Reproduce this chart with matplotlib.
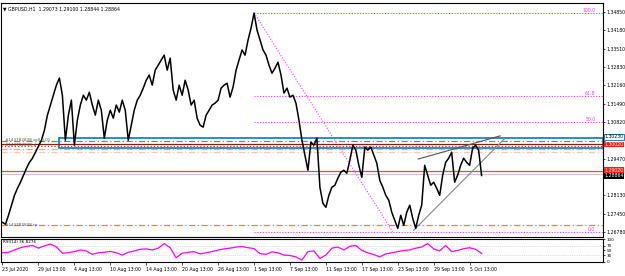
"""GBPUSD H1 chart with fib levels, trendlines and RSI panel."""

import numpy as np
import matplotlib
matplotlib.use('Agg')
import matplotlib.pyplot as plt
import matplotlib.patches as mpatches

prices = [
    1.2714, 1.2707, 1.2740, 1.2777, 1.2813, 1.2839, 1.2861, 1.2887, 1.2912, 1.2934,
    1.2949, 1.2971, 1.2993, 1.3015, 1.3052, 1.3107, 1.3144, 1.3180, 1.3217, 1.3243,
    1.3180, 1.3015, 1.3107, 1.3162, 1.2997, 1.3089, 1.3144, 1.3180, 1.3162, 1.3191,
    1.3144, 1.3107, 1.3162, 1.3125, 1.3023, 1.3089, 1.3125, 1.3096, 1.3144, 1.3118,
    1.3162, 1.3125, 1.3015, 1.3070, 1.3125, 1.3162, 1.3180, 1.3206, 1.3235, 1.3254,
    1.3217, 1.3272, 1.3290, 1.3309, 1.3327, 1.3272, 1.3316, 1.3199, 1.3162, 1.3217,
    1.3180, 1.3235, 1.3199, 1.3144, 1.3162, 1.3096, 1.3070, 1.3063, 1.3107, 1.3125,
    1.3144, 1.3151, 1.3162, 1.3206, 1.3217, 1.3224, 1.3173, 1.3210, 1.3272, 1.3309,
    1.3346, 1.3327, 1.3382, 1.3426, 1.3481, 1.3419, 1.3382, 1.3346, 1.3327, 1.3290,
    1.3261, 1.3279, 1.3301, 1.3254, 1.3188, 1.3206, 1.3173, 1.3180, 1.3151, 1.3089,
    1.3015, 1.2960, 1.2905, 1.3008, 1.2997, 1.3023, 1.2843, 1.2784, 1.2769, 1.2813,
    1.2843, 1.2850, 1.2876, 1.2898, 1.2905, 1.2894, 1.2942, 1.2997, 1.2979, 1.2923,
    1.2879, 1.2990, 1.2979, 1.2990, 1.2960, 1.2931, 1.2868, 1.2843, 1.2813, 1.2795,
    1.2751, 1.2722, 1.2692, 1.2740, 1.2703, 1.2751, 1.2777, 1.2729, 1.2692, 1.2740,
    1.2777, 1.2923, 1.2887, 1.2850, 1.2861, 1.2839, 1.2813, 1.2887, 1.2934, 1.2949,
    1.2971, 1.2861, 1.2887, 1.2923, 1.2949, 1.2934, 1.2923, 1.2986, 1.2997, 1.2979,
    1.2886,
]

rsi = [
    40, 42, 52, 62, 68, 72, 60, 70, 78, 66, 38, 40, 45, 52, 48, 33, 40, 42, 46, 40,
    30, 42, 48, 55, 57, 52, 60, 80, 62, 18, 38, 42, 45, 35, 40, 45, 52, 57, 60, 65,
    67, 62, 58, 36, 33, 44, 40, 30, 28, 22, 8, 45, 48, 15, 30, 60, 65, 52, 68, 72,
    50, 40, 32, 22, 35, 40, 45, 50, 52, 60, 65, 80, 57, 48, 72, 45, 50, 58, 62, 55,
    37,
]

date_labels = ['23 Jul 2020', '29 Jul 13:00', '4 Aug 13:00', '10 Aug 13:00',
               '14 Aug 13:00', '20 Aug 13:00', '26 Aug 13:00', '1 Sep 13:00',
               '7 Sep 13:00', '11 Sep 13:00', '17 Sep 13:00', '23 Sep 13:00',
               '29 Sep 13:00', '5 Oct 13:00']

price_ticks = [1.26780, 1.27450, 1.28130, 1.28800, 1.29470, 1.30140, 1.30820,
               1.31490, 1.32160, 1.32830, 1.33510, 1.34180, 1.34850]
# ticks hidden behind the coloured price boxes
hidden_ticks = [1.28800, 1.30140]

# fibonacci anchors (high, low) and levels
fib_high, fib_low = 1.3482, 1.2680
fib_levels = [100.0, 61.8, 50.0, 0.0]

# order / level lines: (price, color, style)
level_lines = [
    (1.3011, '#3cb043', (0, (5, 2, 1, 2))),
    (1.3000, '#8b1a1a', '-'),
    (1.2995, '#a0522d', ':'),
    (1.2982, '#f4a582', (0, (5, 2, 1, 2))),
    (1.2972, '#fbc8b0', (0, (5, 2, 1, 2))),
    (1.2902, '#e8474c', '-'),
    (1.2890, '#c8c8c8', '-'),
    (1.2705, '#f08040', (0, (5, 2, 1, 2))),
]

# right-hand price boxes: (price, text, face, edge, text colour)
price_boxes = [
    (1.3027, '1.30230', 'white', '#1a7fd4', 'black'),
    (1.3000, '1.30020', '#ff1a1a', 'none', 'white'),
    (1.2905, '1.29020', '#ff1a1a', 'none', 'white'),
    (1.2884, '1.28864', 'black', 'none', 'white'),
]

# blue zone rectangle (start bar, top, bottom)
zone = (19, 1.3023, 1.2987)

# trendlines: (bar0, price0, bar1, price1, color)
trend_lines = [
    (138.8, 1.2946, 166.2, 1.3031, '#555555'),
    (137.3, 1.2685, 167.7, 1.3021, '#888888'),
]

x = np.arange(len(prices))
xr = np.arange(len(rsi)) * 2
xmin, xmax = -0.5, 200.5
fs = 3.3

fig = plt.figure(figsize=(6.25, 2.76), dpi=100)
ax = fig.add_axes([0.0016, 0.141, 0.963, 0.848])
ax_rsi = fig.add_axes([0.0016, 0.051, 0.963, 0.083])

# --- main panel ---
ax.set_xlim(xmin, xmax)
ax.set_ylim(1.2660, 1.3518)

peak = int(np.argmax(prices))
for lvl in fib_levels:
    p = fib_low + (fib_high - fib_low) * lvl / 100
    ax.plot([peak, xmax], [p, p], color='#ff33ff', lw=0.8, ls=(0, (1, 1.5)))
    ax.text(198, p, f'{lvl:.1f}', color='#ff33ff', fontsize=fs,
            ha='right', va='bottom')
low_bar = 130.3
ax.plot([peak, low_bar], [fib_high, fib_low], color='#ff33ff', lw=0.8,
        ls=(0, (1, 1.5)))

for p, c, ls in level_lines:
    ax.axhline(p, color=c, lw=0.9, ls=ls)

x0, top, bot = zone
ax.add_patch(mpatches.Rectangle((x0, bot), xmax - x0, top - bot, fill=False,
                                edgecolor='#1a7fd4', lw=1.3))

for b0, p0, b1, p1, c in trend_lines:
    ax.plot([b0, b1], [p0, p1], color=c, lw=0.8)

ax.plot(x, prices, color='black', lw=1.1)

ax.yaxis.tick_right()
ax.set_yticks(price_ticks)
ax.set_yticklabels(['' if t in hidden_ticks else f'{t:.5f}'
                    for t in price_ticks])
ax.tick_params(axis='y', labelsize=fs, length=1.5, width=0.5, pad=1)
ax.set_xticks([])
for s in ax.spines.values():
    s.set_linewidth(0.8)

ytr = ax.get_yaxis_transform()
for p, txt, face, edge, tc in price_boxes:
    ax.text(1.003, p, txt, transform=ytr, fontsize=fs, va='center', color=tc,
            bbox=dict(facecolor=face, edgecolor=edge, pad=0.2, lw=0.7))

ax.text(0.004, 0.985, '\u25bc GBPUSD,H1  1.29073 1.29100 1.28844 1.28864',
        transform=ax.transAxes, fontsize=fs, va='top', ha='left')
ax.text(1, 1.3016, '#143782838 sell 0.01', fontsize=3, color='#555555',
        va='center')
ax.text(1, 1.2999, '#143782838 sl', fontsize=3, color='#555555', va='center')
ax.text(1, 1.2705, '#143782838 tp', fontsize=3, color='#555555', va='center')

# --- RSI panel ---
ax_rsi.set_xlim(xmin, xmax)
ax_rsi.set_ylim(0, 100)
ax_rsi.axhline(70, color='#c0c0c0', lw=0.5, ls=':')
ax_rsi.axhline(30, color='#c0c0c0', lw=0.5, ls=':')
ax_rsi.plot(xr, rsi, color='#ff00ff', lw=0.9)
ax_rsi.yaxis.tick_right()
ax_rsi.set_yticks([0, 30, 50, 70, 100])
ax_rsi.tick_params(axis='y', labelsize=3, length=1.5, width=0.5, pad=1)
ax_rsi.set_xticks(np.arange(len(date_labels)) * 12)
ax_rsi.set_xticklabels(date_labels, ha='left')
ax_rsi.tick_params(axis='x', labelsize=fs, length=2, width=0.5, pad=1.5)
ax_rsi.text(0.004, 0.95, 'RSI(14) 36.8276', transform=ax_rsi.transAxes,
            fontsize=3, va='top')
for s in ax_rsi.spines.values():
    s.set_linewidth(0.8)

fig.savefig('out.png', dpi=100, facecolor='white')
plt.close(fig)
